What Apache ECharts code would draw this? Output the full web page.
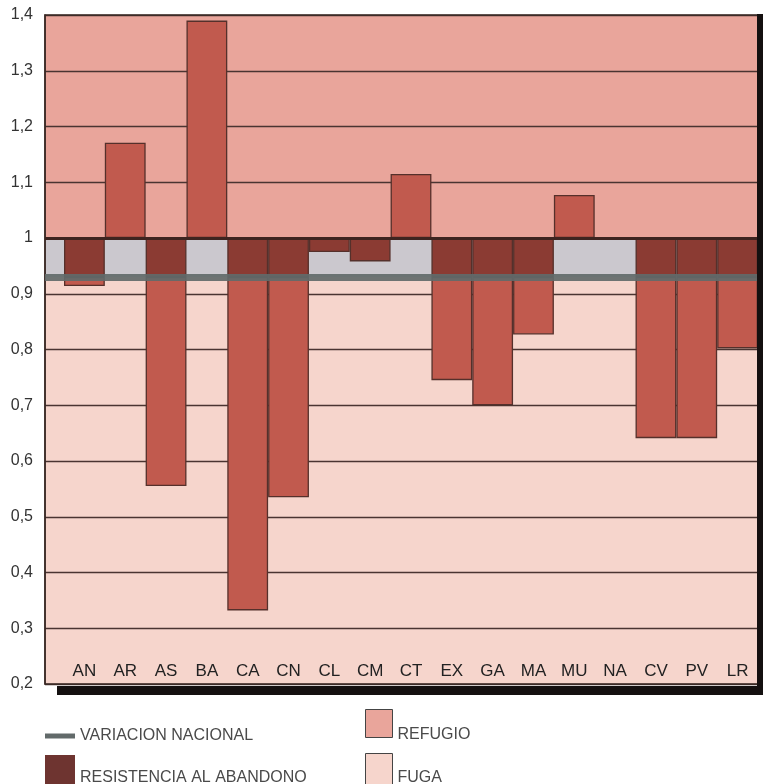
<!DOCTYPE html>
<html><head><meta charset="utf-8">
<script src="https://cdn.jsdelivr.net/npm/echarts@6/dist/echarts.min.js"></script>
<style>html,body{margin:0;padding:0;background:#fff}#c{width:763px;height:784px}</style>
</head><body><div id="c"></div>
<script>
// ---- data ----
const categories = ['AN','AR','AS','BA','CA','CN','CL','CM','CT','EX','GA','MA','MU','NA','CV','PV','LR'];
const values = [0.914,1.171,0.555,1.39,0.332,0.535,0.975,0.958,1.115,0.745,0.70,0.827,1.077,1.0,0.641,0.641,0.802];
const nationalVariation = 0.93;
const baseline = 1;
const yMin = 0.2, yMax = 1.4, yStep = 0.1;

// ---- styles ----
const C = {
  refugio: '#e9a59b', fuga: '#f6d5cc', band: '#cbc8ce', national: '#626a6a',
  bar: '#c15a4e', barDark: '#8b3b33', legendDark: '#6e3430', grid: '#4a3431', outline: '#55302b'
};
const FONT = 'Liberation Sans, Arial, sans-serif';

// stacked segments derived from values
const base = values.map(v => Math.min(v, baseline));
const segBelow = values.map(v => v < nationalVariation ? +(nationalVariation - v).toFixed(4) : '-');
const segBand = values.map(v => v < baseline ? +(baseline - Math.max(v, nationalVariation)).toFixed(4) : '-');
const segAbove = values.map(v => v > baseline ? +(v - baseline).toFixed(4) : '-');

const fmt = v => String(Math.round(v * 10) / 10).replace('.', ',');

const legendText = (shift) => ({
  fontSize: 16, color: '#4a4a4a', fontFamily: FONT,
  rich: { t: { fontSize: 16, color: '#4a4a4a', fontFamily: FONT, padding: [shift, 0, 0, 0] } }
});

const chart = echarts.init(document.getElementById('c'));
const barCommon = {
  type: 'bar', xAxisIndex: 1, yAxisIndex: 1, stack: 'total',
  barCategoryGap: '0%', barWidth: '100%', z: 5,
  itemStyle: { borderColor: C.outline, borderWidth: 1.3 }
};
chart.setOption({
  animation: false,
  backgroundColor: '#fff',
  grid: [
    { left: 45, right: 5, top: 15, bottom: 100, show: true, borderColor: '#3a2825', borderWidth: 1.5, backgroundColor: 'transparent', z: 7 },
    { left: 64, right: 5, top: 15, bottom: 100 }
  ],
  xAxis: [
    { gridIndex: 0, type: 'value', min: 0, max: 1, show: false },
    { gridIndex: 1, type: 'category', data: categories, z: 9,
      axisLine: { show: false }, axisTick: { show: false },
      axisLabel: { inside: true, margin: 4, color: '#222', fontSize: 17, fontFamily: FONT, verticalAlign: 'bottom' } }
  ],
  yAxis: [
    { gridIndex: 0, type: 'value', min: yMin, max: yMax, interval: yStep, z: 2,
      axisLine: { show: true, lineStyle: { color: '#3a2825', width: 1.5 } },
      axisTick: { show: false },
      axisLabel: { formatter: fmt, margin: 12, color: '#333', fontSize: 16, fontFamily: FONT },
      splitLine: { show: true, lineStyle: { color: C.grid, width: 1.3 } } },
    { gridIndex: 1, type: 'value', min: yMin, max: yMax, interval: yStep, show: false, splitLine: { show: false } }
  ],
  legend: [
    { left: 40, top: 723, icon: 'rect', itemWidth: 30, itemHeight: 5, selectedMode: false,
      textStyle: { fontSize: 16, color: '#4a4a4a', fontFamily: FONT },
      data: [{ name: 'VARIACION NACIONAL', itemStyle: { color: C.national } }] },
    { left: 40, top: 750, icon: 'rect', itemWidth: 30, itemHeight: 30, selectedMode: false,
      formatter: '{t|{name}}', textStyle: legendText(16),
      data: [{ name: 'RESISTENCIA AL ABANDONO', itemStyle: { color: C.legendDark, borderWidth: 0 } }] },
    { left: 360, top: 704, icon: 'rect', itemWidth: 27, itemHeight: 28, selectedMode: false,
      formatter: '{t|{name}}', textStyle: legendText(22),
      data: [{ name: 'REFUGIO', itemStyle: { color: C.refugio, borderColor: '#444', borderWidth: 1 } }] },
    { left: 360, top: 748, icon: 'rect', itemWidth: 27, itemHeight: 31, selectedMode: false,
      formatter: '{t|{name}}', textStyle: legendText(18),
      data: [{ name: 'FUGA', itemStyle: { color: C.fuga, borderColor: '#444', borderWidth: 1 } }] }
  ],
  graphic: [
    { type: 'rect', shape: { x: 757, y: 14, width: 6, height: 680 }, style: { fill: '#141010' }, z: 10 },
    { type: 'rect', shape: { x: 57, y: 686, width: 706, height: 9 }, style: { fill: '#141010' }, z: 10 }
  ],
  series: [
    { name: 'REFUGIO', type: 'line', xAxisIndex: 0, yAxisIndex: 0, data: [], z: 0, color: C.refugio,
      markArea: { z: 0, silent: true, itemStyle: { color: C.refugio }, data: [[{ yAxis: baseline }, { yAxis: yMax }]] } },
    { name: 'FUGA', type: 'line', xAxisIndex: 0, yAxisIndex: 0, data: [], z: 0, color: C.fuga,
      markArea: { z: 0, silent: true, itemStyle: { color: C.fuga }, data: [[{ yAxis: yMin }, { yAxis: nationalVariation }]] } },
    { name: 'band', type: 'line', xAxisIndex: 0, yAxisIndex: 0, data: [], z: 0, color: C.band,
      markArea: { z: 0, silent: true, itemStyle: { color: C.band }, data: [[{ yAxis: nationalVariation }, { yAxis: baseline }]] } },
    Object.assign({}, barCommon, { name: 'base', data: base, itemStyle: { color: 'transparent', borderWidth: 0 }, silent: true }),
    Object.assign({}, barCommon, { name: 'fuga-bar', data: segBelow, color: C.bar }),
    Object.assign({}, barCommon, { name: 'RESISTENCIA AL ABANDONO', data: segBand, color: C.barDark,
      itemStyle: { color: C.barDark, borderColor: C.outline, borderWidth: 1.3 } }),
    Object.assign({}, barCommon, { name: 'refugio-bar', data: segAbove, color: C.bar }),
    { name: 'VARIACION NACIONAL', type: 'line', xAxisIndex: 0, yAxisIndex: 0, data: [], z: 8, color: C.national,
      markLine: { z: 8, silent: true, symbol: 'none', label: { show: false },
        lineStyle: { color: C.national, width: 7, type: 'solid', opacity: 0.92 },
        data: [{ yAxis: nationalVariation }] } },
    { name: 'baseline', type: 'line', xAxisIndex: 0, yAxisIndex: 0, data: [], z: 8,
      markLine: { z: 8, silent: true, symbol: 'none', label: { show: false },
        lineStyle: { color: '#3e2420', width: 3, type: 'solid' },
        data: [{ yAxis: baseline }] } }
  ]
});
</script></body></html>
